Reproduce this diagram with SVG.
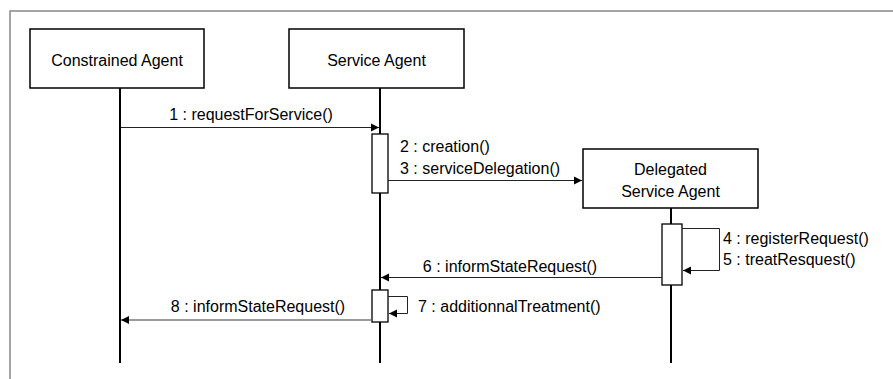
<svg xmlns="http://www.w3.org/2000/svg" width="893" height="379" viewBox="0 0 893 379">
<style>
  .box { fill: #ffffff; stroke: #000000; stroke-width: 1.5; }
  .life { stroke: #000000; stroke-width: 2; fill: none; }
  .act { fill: #ffffff; stroke: #000000; stroke-width: 1.3; }
  .msg { stroke: #222222; stroke-width: 1; fill: none; }
  .ret { stroke: #9a9a9a; stroke-width: 2; fill: none; }
  text { font-family: "Liberation Sans", Arial, sans-serif; font-size: 16px; fill: #000000; }
  .c { text-anchor: middle; }
</style>
<defs>
  <marker id="arrow" markerWidth="10" markerHeight="10" refX="9" refY="5" orient="auto" markerUnits="userSpaceOnUse">
    <path d="M1,1 L9,5 L1,9 Z" fill="#000000"/>
  </marker>
</defs>
<rect x="0" y="0" width="893" height="379" fill="#ffffff"/>
<rect x="10" y="11" width="900" height="400" fill="none" stroke="#888888" stroke-width="1.5"/>

<g id="lifelines">
  <line class="life" x1="120" y1="88" x2="120" y2="363"/>
  <line class="life" x1="380" y1="88" x2="380" y2="363"/>
  <line class="life" x1="671" y1="208" x2="671" y2="363"/>
</g>

<g id="constrained-agent">
  <rect class="box" x="30" y="29" width="174" height="59"/>
  <text class="c" x="117" y="66">Constrained Agent</text>
</g>
<g id="service-agent">
  <rect class="box" x="289" y="29" width="175" height="59"/>
  <text class="c" x="376.5" y="66">Service Agent</text>
</g>
<g id="delegated-service-agent">
  <rect class="box" x="583" y="149" width="175" height="59"/>
  <text class="c" x="670.5" y="175">Delegated</text>
  <text class="c" x="670.5" y="197">Service Agent</text>
</g>

<g id="activations">
  <rect class="act" x="372" y="134" width="16" height="59"/>
  <rect class="act" x="662" y="224" width="20" height="61"/>
  <rect class="act" x="372" y="290" width="16" height="32"/>
</g>

<g id="connectors">
  <line class="msg" x1="121" y1="127.5" x2="379" y2="127.5" marker-end="url(#arrow)"/>
  <line class="msg" x1="388" y1="180.5" x2="582" y2="180.5" marker-end="url(#arrow)"/>
  <polyline class="msg" points="682,228.5 719.5,228.5 719.5,270.5 683,270.5" marker-end="url(#arrow)"/>
  <line class="msg" x1="662" y1="277.5" x2="381" y2="277.5" marker-end="url(#arrow)"/>
  <polyline class="msg" points="388,296.5 407.5,296.5 407.5,313.5 389,313.5" marker-end="url(#arrow)"/>
  <line class="ret" x1="371" y1="320" x2="121" y2="320" marker-end="url(#arrow)"/>
</g>

<g id="labels">
  <text class="c" x="251" y="120">1 : requestForService()</text>
  <text x="400" y="152">2 : creation()</text>
  <text x="400" y="174">3 : serviceDelegation()</text>
  <text x="723" y="244">4 : registerRequest()</text>
  <text x="723" y="265">5 : treatResquest()</text>
  <text class="c" x="510" y="272">6 : informStateRequest()</text>
  <text x="418" y="312">7 : additionnalTreatment()</text>
  <text class="c" x="258" y="312">8 : informStateRequest()</text>
</g>
</svg>
